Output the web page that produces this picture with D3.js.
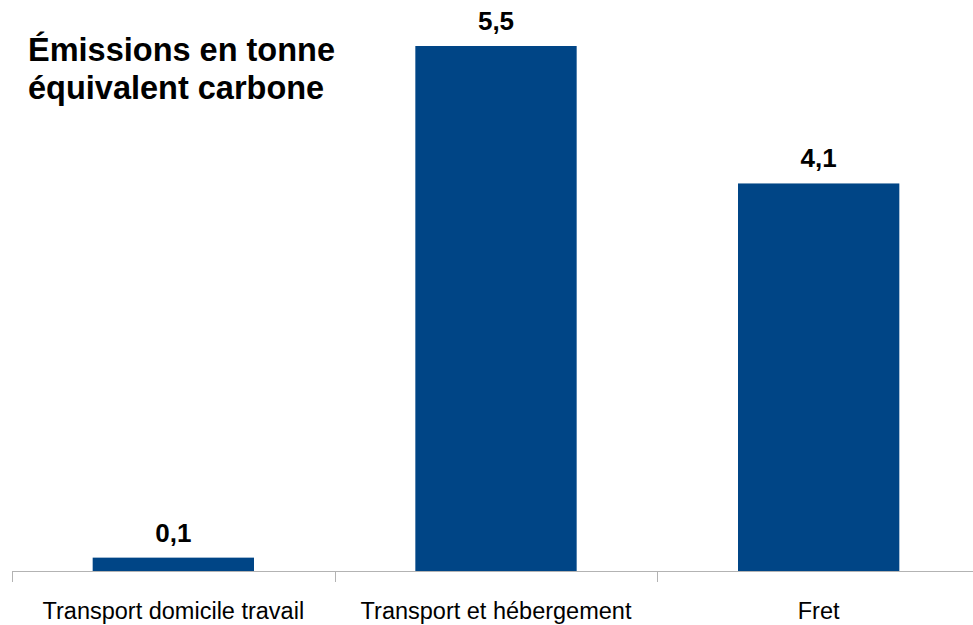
<!DOCTYPE html>
<html>
<head>
<meta charset="utf-8">
<style>
body{ margin:0; background:#fff; }
.bar{ fill:#004586; }
.axis line, .axis path{ stroke:#b3b3b3; stroke-width:1; }
text{ font-family:"Liberation Sans", Arial, sans-serif; fill:#000; }
</style>
<script src="https://d3js.org/d3.v7.min.js"></script>
</head>
<body>
<script>
var w = 973;
var h = 625;

// values
var categories = ["Transport domicile travail", "Transport et hébergement", "Fret"];
var emissions = [0.14, 5.5, 4.06];
var titleLines = ["Émissions en tonne", "équivalent carbone"];

var data = categories.map(function(c, i){ return {cat: c, value: emissions[i]}; });

var svg = d3.select("body").append("svg")
    .attr("width", w)
    .attr("height", h);

var xScale = d3.scaleBand()
    .domain(categories)
    .range([12, 980])
    .paddingInner(0)
    .paddingOuter(0);

var yScale = d3.scaleLinear()
    .domain([0, 5.5])
    .range([571, 46]);

var barW = xScale.bandwidth() * 0.5;

svg.selectAll("rect.bar")
   .data(data)
   .enter()
   .append("rect")
   .attr("class", "bar")
   .attr("x", function(d){ return xScale(d.cat) + (xScale.bandwidth() - barW) / 2; })
   .attr("y", function(d){ return yScale(d.value); })
   .attr("width", barW)
   .attr("height", function(d){ return yScale(0) - yScale(d.value); });

// axis: baseline + ticks on band boundaries
var axis = svg.append("g").attr("class", "axis");
axis.append("line")
    .attr("x1", 12).attr("x2", w)
    .attr("y1", yScale(0) + 0.5).attr("y2", yScale(0) + 0.5);
axis.selectAll("line.tick")
    .data(categories)
    .enter()
    .append("line")
    .attr("class", "tick")
    .attr("x1", function(d){ return Math.round(xScale(d)) + 0.5; })
    .attr("x2", function(d){ return Math.round(xScale(d)) + 0.5; })
    .attr("y1", yScale(0))
    .attr("y2", yScale(0) + 11);

svg.selectAll("text.cat")
   .data(categories)
   .enter()
   .append("text")
   .attr("class", "cat")
   .attr("x", function(d){ return xScale(d) + xScale.bandwidth() / 2; })
   .attr("y", 619)
   .attr("text-anchor", "middle")
   .style("font-size", "23.5px")
   .text(function(d){ return d; });

var fmt = function(v){ return d3.format(".1f")(v).replace(".", ","); };

svg.selectAll("text.val")
   .data(data)
   .enter()
   .append("text")
   .attr("class", "val")
   .attr("x", function(d){ return xScale(d.cat) + xScale.bandwidth() / 2; })
   .attr("y", function(d){ return yScale(d.value) - 16; })
   .attr("text-anchor", "middle")
   .style("font-size", "26px")
   .style("font-weight", "bold")
   .text(function(d){ return fmt(d.value); });

svg.selectAll("text.title")
   .data(titleLines)
   .enter()
   .append("text")
   .attr("class", "title")
   .attr("x", 28)
   .attr("y", function(d, i){ return 61 + i * 38; })
   .style("font-size", "32.5px")
   .style("font-weight", "bold")
   .text(function(d){ return d; });
</script>
</body>
</html>
